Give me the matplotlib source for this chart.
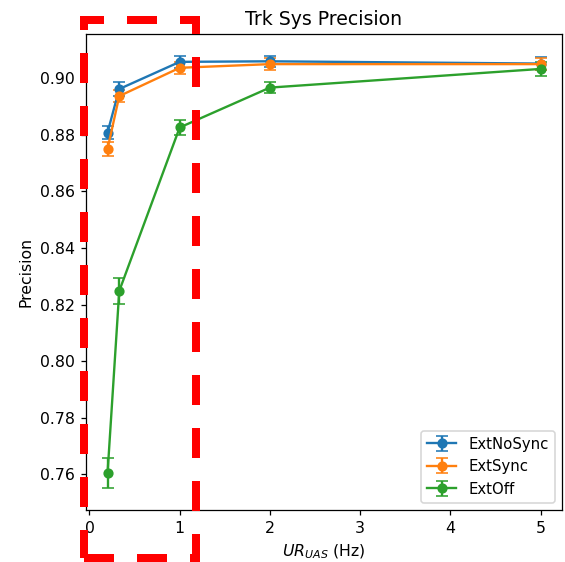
import matplotlib
matplotlib.use("Agg")
import matplotlib.pyplot as plt
from matplotlib.patches import Rectangle

# update rate (Hz)
rates = [0.2, 0.33, 1, 2, 5]

no_sync = [0.8808, 0.8962, 0.9058, 0.9060, 0.9052]
no_sync_err = [0.0022, 0.0025, 0.0022, 0.0020, 0.0022]

sync = [0.8750, 0.8937, 0.9037, 0.9050, 0.9050]
sync_err = [0.0025, 0.0022, 0.0022, 0.0020, 0.0022]

off = [0.7603, 0.8248, 0.8826, 0.8967, 0.9033]
off_err = [0.0053, 0.0045, 0.0028, 0.0020, 0.0025]

DPI = 113
fig = plt.figure(figsize=(565 / DPI, 562 / DPI), dpi=DPI)
ax = fig.add_axes([0.152, 0.0925, 0.843, 0.847])

ax.errorbar(rates, no_sync, yerr=no_sync_err, marker="o", ms=5.5, capsize=4, label="ExtNoSync")
ax.errorbar(rates, sync, yerr=sync_err, marker="o", ms=5.5, capsize=4, label="ExtSync")
ax.errorbar(rates, off, yerr=off_err, marker="o", ms=5.5, capsize=4, label="ExtOff")

ax.set_title("Trk Sys Precision")
ax.set_xlabel("$UR_{UAS}$ (Hz)")
ax.set_ylabel("Precision")
ax.legend(loc="lower right", fontsize=9.5)

# highlight box drawn over the figure (sizes in px -> pt)
px = 72 / DPI
lw = 8 * px
box = Rectangle((0.1487, 0.007), 0.198, 0.957, transform=fig.transFigure,
                fill=False, edgecolor="#ff0000", linewidth=lw,
                linestyle=(0, (30 * px / lw, 23 * px / lw)), clip_on=False, zorder=10)
fig.patches.append(box)

fig.savefig("out.png", dpi=DPI)
